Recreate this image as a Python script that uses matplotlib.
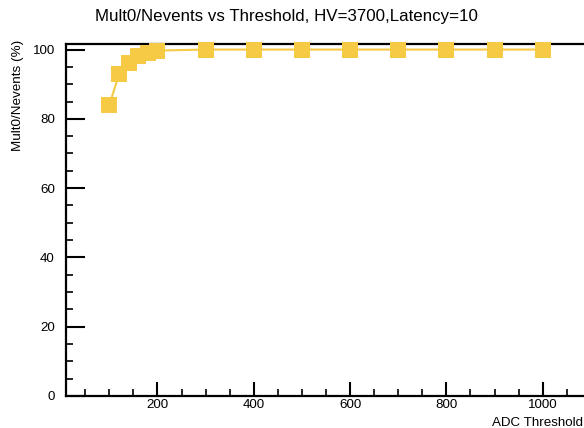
import matplotlib
matplotlib.use("Agg")
import matplotlib.pyplot as plt
from matplotlib.ticker import MultipleLocator

# data
threshold = [100, 120, 140, 160, 180, 200, 300, 400, 500, 600, 700, 800, 900, 1000]
mult0_frac = [84.0, 92.8, 96.2, 98.1, 99.0, 99.7, 100, 100, 100, 100, 100, 100, 100, 100]

title_str = "Mult0/Nevents vs Threshold, HV=3700,Latency=10"
xlabel_str = "ADC Threshold"
ylabel_str = "Mult0/Nevents (%)"

plt.rcParams['font.family'] = ['Liberation Sans', 'DejaVu Sans']

c_gold = '#F7CA45'

fig = plt.figure(figsize=(5.84, 4.28), dpi=100)
ax = fig.add_axes([66/584, 32/428, 520/584, 352/428])

ax.plot(threshold, mult0_frac, color=c_gold, linewidth=1.5, marker='s',
        markersize=11, markeredgewidth=0, clip_on=False, zorder=3)

ax.set_xlim(10, 1090)
ax.set_ylim(0, 101.6)

# ROOT-style ticks: inward, major+minor, left/bottom only
ax.xaxis.set_major_locator(MultipleLocator(200))
ax.xaxis.set_minor_locator(MultipleLocator(50))
ax.yaxis.set_major_locator(MultipleLocator(20))
ax.yaxis.set_minor_locator(MultipleLocator(5))
ax.tick_params(which='major', direction='in', length=10, width=1.5, labelsize=9.6)
ax.tick_params(axis='y', which='major', length=14)
ax.tick_params(which='minor', direction='in', length=5, width=1.2)
ax.tick_params(axis='x', pad=2.5)
ax.tick_params(axis='y', pad=8)

for sp in ax.spines.values():
    sp.set_linewidth(1.6)
ax.spines['right'].set_visible(False)

fig.text(286/584, 1 - 21/428, title_str, ha='center', va='baseline', fontsize=12.2)
fig.text(583/584, 1 - 426.5/428, xlabel_str, ha='right', va='baseline', fontsize=9.6)
fig.text(18/584, 1 - 40/428, ylabel_str, ha='center', va='top', rotation=90, fontsize=9.7)

fig.savefig('out.png', dpi=100)
